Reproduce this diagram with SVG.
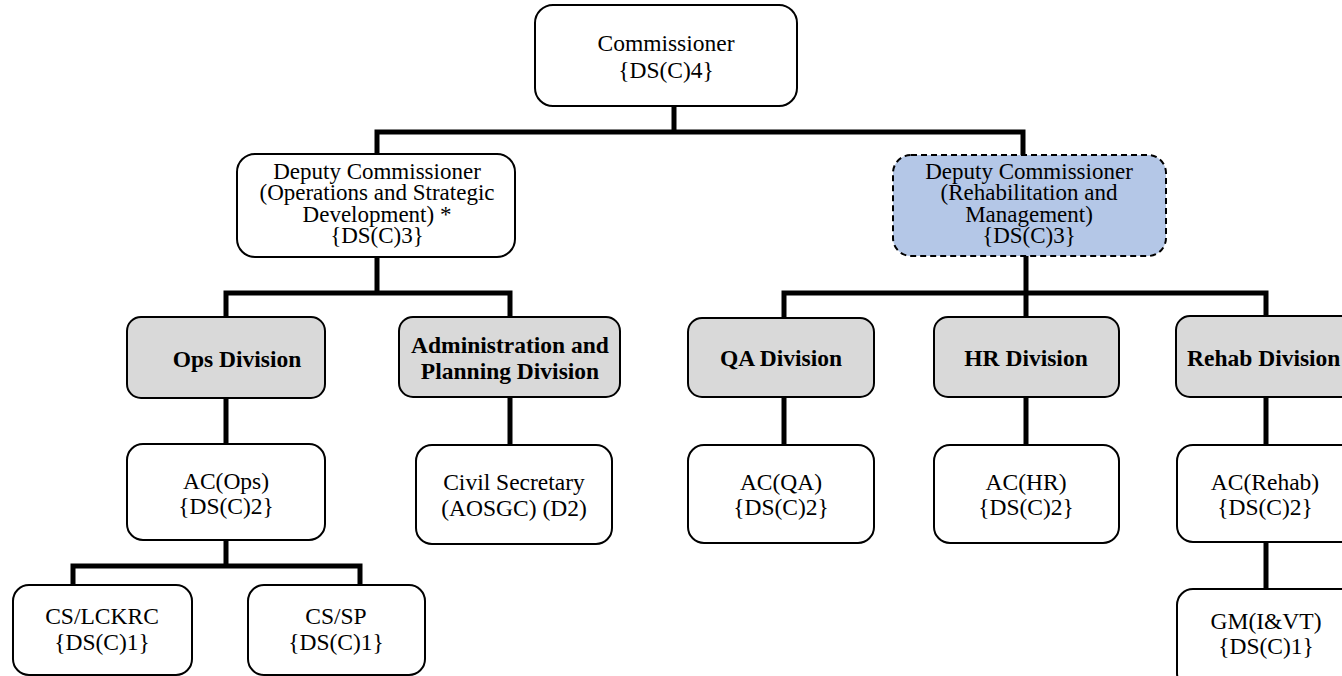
<svg xmlns="http://www.w3.org/2000/svg" width="1342" height="676" viewBox="0 0 1342 676" font-family="'Liberation Serif', 'Times New Roman', 'DejaVu Serif', serif">
  <style>
    .box { fill: #ffffff; stroke: #000000; stroke-width: 2; }
    .div { fill: #d9d9d9; stroke: #000000; stroke-width: 2; }
    .dc2 { fill: #b4c7e7; stroke: #000000; stroke-width: 2; stroke-dasharray: 6 4; }
    text { font-family: 'Liberation Serif', 'Times New Roman', serif; font-size: 23.5px; fill: #000000; text-anchor: middle; }
    .b { font-weight: bold; }
    .s { font-size: 23px; }
    .link { fill: none; stroke: #000000; stroke-width: 5; stroke-linecap: square; stroke-linejoin: miter; }
  </style>
  <rect width="1342" height="676" fill="#ffffff"/>

  <!-- reporting lines -->
  <g id="connectors">
    <path class="link" d="M674 107 V132 M377 155 V132 H1023 V155"/>
    <path class="link" d="M377 258 V293 M226 317 V293 H510 V316"/>
    <path class="link" d="M1026 257 V293 M784 317 V293 H1266 V316 M1026 293 V316"/>
    <path class="link" d="M226 399 V444 M510 398 V444 M784 398 V444 M1026 398 V444 M1266 398 V444"/>
    <path class="link" d="M226 541 V566 M73 584 V566 H360 V584"/>
    <path class="link" d="M1266 543 V588"/>
  </g>

  <g id="commissioner">
    <rect class="box" x="535" y="5" width="262" height="101" rx="18"/>
    <text x="666" y="51">Commissioner</text>
    <text x="666" y="78">{DS(C)4}</text>
  </g>

  <g id="dc-osd">
    <rect class="box" x="237" y="154" width="278" height="103" rx="18"/>
    <text class="s" x="377" y="179">Deputy Commissioner</text>
    <text class="s" x="377" y="200">(Operations and Strategic</text>
    <text class="s" x="377" y="222">Development) *</text>
    <text class="s" x="377" y="243">{DS(C)3}</text>
  </g>

  <g id="dc-rm">
    <rect class="dc2" x="893" y="155" width="273" height="101" rx="18"/>
    <text class="s" x="1029" y="179">Deputy Commissioner</text>
    <text class="s" x="1029" y="200">(Rehabilitation and</text>
    <text class="s" x="1029" y="222">Management)</text>
    <text class="s" x="1029" y="243">{DS(C)3}</text>
  </g>

  <g id="ops-division">
    <rect class="div" x="127" y="317" width="198" height="81" rx="14"/>
    <text class="b" x="237" y="367">Ops Division</text>
  </g>

  <g id="admin-division">
    <rect class="div" x="399" y="317" width="221" height="80" rx="14"/>
    <text class="b" x="510" y="353">Administration and</text>
    <text class="b" x="510" y="379">Planning Division</text>
  </g>

  <g id="qa-division">
    <rect class="div" x="688" y="318" width="186" height="79" rx="14"/>
    <text class="b" x="781" y="366">QA Division</text>
  </g>

  <g id="hr-division">
    <rect class="div" x="934" y="317" width="185" height="80" rx="14"/>
    <text class="b" x="1026" y="366">HR Division</text>
  </g>

  <g id="rehab-division">
    <rect class="div" x="1176" y="316" width="190" height="81" rx="14"/>
    <text class="b" x="1187" y="366" style="text-anchor:start">Rehab Division</text>
  </g>

  <g id="ac-ops">
    <rect class="box" x="127" y="444" width="198" height="96" rx="16"/>
    <text x="226" y="489">AC(Ops)</text>
    <text x="226" y="514">{DS(C)2}</text>
  </g>

  <g id="civil-secretary">
    <rect class="box" x="416" y="445" width="196" height="99" rx="16"/>
    <text x="514" y="490">Civil Secretary</text>
    <text x="514" y="516">(AOSGC) (D2)</text>
  </g>

  <g id="ac-qa">
    <rect class="box" x="688" y="445" width="186" height="98" rx="16"/>
    <text x="781" y="490">AC(QA)</text>
    <text x="781" y="515">{DS(C)2}</text>
  </g>

  <g id="ac-hr">
    <rect class="box" x="934" y="445" width="185" height="98" rx="16"/>
    <text x="1026" y="490">AC(HR)</text>
    <text x="1026" y="515">{DS(C)2}</text>
  </g>

  <g id="ac-rehab">
    <rect class="box" x="1177" y="445" width="190" height="97" rx="16"/>
    <text x="1265" y="490">AC(Rehab)</text>
    <text x="1265" y="515">{DS(C)2}</text>
  </g>

  <g id="cs-lckrc">
    <rect class="box" x="13" y="585" width="179" height="90" rx="16"/>
    <text x="102" y="624">CS/LCKRC</text>
    <text x="102" y="650">{DS(C)1}</text>
  </g>

  <g id="cs-sp">
    <rect class="box" x="248" y="585" width="177" height="90" rx="16"/>
    <text x="336" y="624">CS/SP</text>
    <text x="336" y="650">{DS(C)1}</text>
  </g>

  <g id="gm-ivt">
    <rect class="box" x="1177" y="589" width="190" height="100" rx="16"/>
    <text x="1266" y="629">GM(I&amp;VT)</text>
    <text x="1266" y="654">{DS(C)1}</text>
  </g>
</svg>
